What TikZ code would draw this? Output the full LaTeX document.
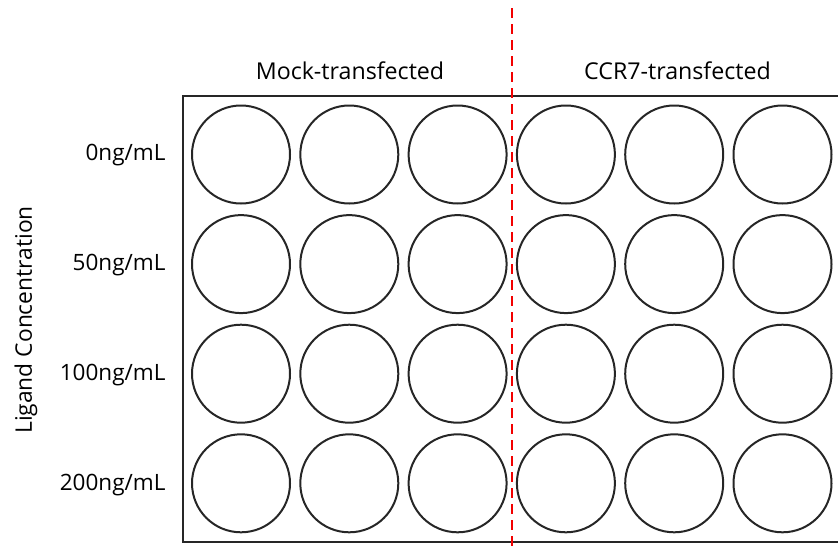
\documentclass[tikz,border=0pt]{standalone}
\usepackage{fontspec}
\setmainfont{Open Sans}
\begin{document}
\begin{tikzpicture}[x=1pt,y=-1pt,
  well/.style={circle,draw=black!85,line width=2pt,minimum size=98pt,inner sep=0pt},
  plate/.style={draw=black!85,line width=2pt},
  divider/.style={draw=red!95!black,line width=2pt,dash pattern=on 10pt off 6pt},
  collabel/.style={font=\fontsize{23.2}{27}\selectfont,anchor=base},
  rowlabel/.style={font=\fontsize{22.5}{26}\selectfont,anchor=east},
  axislabel/.style={font=\fontsize{22.8}{26}\selectfont,rotate=90}]
  \clip (0,0) rectangle (838,549);
  \useasboundingbox (0,0) rectangle (838,549);
  % plate outline (right edge runs past the page)
  \draw[plate] (182.5,96) rectangle (860,542.3);
  % 4 x 6 wells
  \foreach \r/\y in {1/154.5,2/264.1,3/373.7,4/483.3}{
    \foreach \c in {1,...,6}{
      \node[well] (w\r\c) at ({241+108.3*(\c-1)},\y) {};
    }
  }
  % column headers
  \node[collabel] (mock) at (350,79) {Mock-transfected};
  \node[collabel] (ccr7) at (677.5,79) {CCR7-transfected};
  % row labels
  \node[rowlabel] (r1) at (169,155) {0ng/mL};
  \node[rowlabel] (r2) at (169,265.5) {50ng/mL};
  \node[rowlabel] (r3) at (169,375.5) {100ng/mL};
  \node[rowlabel] (r4) at (169,485.5) {200ng/mL};
  \node[axislabel] (axis) at (26,320) {Ligand Concentration};
  % divider between the two groups
  \coordinate (dtop) at (511.7,8);
  \coordinate (dbot) at (511.7,549);
  \draw[divider] (dtop) -- (dbot);
\end{tikzpicture}
\end{document}
